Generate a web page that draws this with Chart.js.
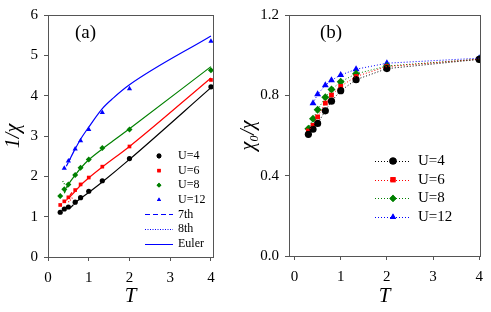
<!DOCTYPE html>
<html>
<head>
<meta charset="utf-8">
<script src="https://cdn.jsdelivr.net/npm/chart.js"></script>
<style>
    body { margin: 0; background: #fff; }
    #wrap { position: relative; width: 491px; height: 312px; overflow: hidden; }
    canvas { position: absolute; top: 0; }
    #chartA { left: 0; }
    #chartB { left: 235px; }
</style>
</head>
<body>
<div id="wrap">
    <canvas id="chartA" width="245" height="312"></canvas>
    <canvas id="chartB" width="256" height="312"></canvas>
</div>
<script>
(function () {

    // panel (a): 1/chi vs T
    var temps = [0.3, 0.4, 0.5, 0.667, 0.8, 1, 1.333, 2, 4];
    var tempsU12 = [0.4, 0.5, 0.667, 0.8, 1, 1.333, 2, 4];
    var invChiU4 = [1.11, 1.19, 1.24, 1.36, 1.47, 1.63, 1.89, 2.44, 4.22];
    var invChiU6 = [1.29, 1.38, 1.48, 1.66, 1.80, 1.97, 2.24, 2.74, 4.39];
    var invChiU8 = [1.51, 1.68, 1.80, 2.03, 2.21, 2.42, 2.70, 3.16, 4.63];
    var invChiU12 = [2.20, 2.38, 2.68, 2.88, 3.16, 3.58, 4.17, 5.35];

    // Euler-resummed curves
    var eulerT4 = [0.62, 0.8, 1, 1.333, 2, 4];
    var eulerU4 = [1.31, 1.45, 1.60, 1.86, 2.42, 4.20];
    var eulerT6 = [0.5, 0.667, 0.8, 1, 1.333, 2, 4];
    var eulerU6 = [1.45, 1.63, 1.78, 1.96, 2.23, 2.74, 4.44];
    var eulerT8 = [0.45, 0.5, 0.667, 0.8, 1, 1.333, 1.6, 2, 4];
    var eulerU8 = [1.72, 1.80, 2.03, 2.20, 2.41, 2.68, 2.88, 3.18, 4.72];
    var eulerT12 = [0.5, 0.667, 0.8, 1, 1.333, 1.6, 2, 4];
    var eulerU12 = [2.35, 2.68, 2.92, 3.22, 3.68, 3.94, 4.27, 5.48];

    // 7th / 8th order pieces at low T
    var order7T4 = [0.55, 0.72], order7U4 = [1.22, 1.40];
    var order8T4 = [0.6, 0.7], order8U4 = [1.26, 1.37];
    var order7T6 = [0.45, 0.6], order7U6 = [1.40, 1.62];
    var order8T6 = [0.5, 0.6], order8U6 = [1.36, 1.47];
    var order7T8 = [0.4, 0.52], order7U8 = [1.58, 1.85];
    var order8T8 = [0.36, 0.42], order8U8 = [1.88, 1.78];
    var order7T12 = [0.45, 0.55], order7U12 = [2.25, 2.45];

    var ticksXA = [0, 1, 2, 3, 4];
    var ticksYA = [0, 1, 2, 3, 4, 5, 6];

    // panel (b): chi0/chi vs T
    var ratioU4 = [0.606, 0.631, 0.660, 0.723, 0.771, 0.823, 0.878, 0.933, 0.979];
    var ratioU6 = [0.623, 0.650, 0.693, 0.761, 0.801, 0.845, 0.894, 0.943, 0.980];
    var ratioU8 = [0.634, 0.683, 0.728, 0.790, 0.829, 0.868, 0.907, 0.946, 0.980];
    var ratioU12 = [0.761, 0.805, 0.850, 0.875, 0.901, 0.930, 0.960, 0.985];

    var ticksXB = [0, 1, 2, 3, 4];
    var ticksYB = [0, 0.4, 0.8, 1.2];

    var labels = ['U=4', 'U=6', 'U=8', 'U=12'];
    var colors = ['#000000', '#ff0000', '#008000', '#0000ff'];
    var markers = ['circle', 'rect', 'rectRot', 'triangle'];

    var FONT = '"Liberation Serif", "Times New Roman", serif';

    function pts(xs, ys) {
        return xs.map(function (x, i) { return {x: x, y: ys[i]}; });
    }

    function points(xs, ys, i, r) {
        return {
            data: pts(xs, ys),
            showLine: false,
            pointStyle: markers[i],
            pointRadius: r,
            backgroundColor: colors[i],
            borderColor: colors[i],
            borderWidth: 0
        };
    }

    function curve(xs, ys, i, dash, width) {
        return {
            data: pts(xs, ys),
            showLine: true,
            pointRadius: 0,
            borderColor: colors[i],
            borderWidth: width || 1.2,
            borderDash: dash || [],
            cubicInterpolationMode: 'monotone',
            fill: false
        };
    }

    function marker(ctx, style, color, x, y, r) {
        ctx.fillStyle = color;
        ctx.strokeStyle = color;
        if (Chart.helpers && Chart.helpers.drawPoint) {
            Chart.helpers.drawPoint(ctx, {pointStyle: style, radius: r, rotation: 0, borderWidth: 0}, x, y);
            ctx.fill();
        }
    }

    var framePlugin = {
        id: 'frame',
        afterDraw: function (chart, args, opts) {
            var ctx = chart.ctx;
            var a = chart.chartArea;
            ctx.save();
            ctx.strokeStyle = '#555';
            ctx.lineWidth = 1;
            ctx.setLineDash([]);
            ctx.strokeRect(Math.round(a.left) + 0.5, Math.round(a.top) + 0.5,
                Math.round(a.right - a.left), Math.round(a.bottom - a.top));

            ctx.fillStyle = '#000';
            ctx.font = '19px ' + FONT;
            ctx.textBaseline = 'middle';
            ctx.fillText(opts.tag, opts.tagX, opts.tagY);

            var lg = opts.legend;
            ctx.font = lg.size + 'px ' + FONT;
            lg.items.forEach(function (it, k) {
                var y = lg.y0 + k * lg.dy;
                if (it.line) {
                    ctx.beginPath();
                    ctx.strokeStyle = it.color;
                    ctx.lineWidth = 1;
                    ctx.setLineDash(it.dash || []);
                    ctx.moveTo(lg.lineX0, Math.round(y) + 0.5);
                    ctx.lineTo(lg.lineX1, Math.round(y) + 0.5);
                    ctx.stroke();
                    ctx.setLineDash([]);
                }
                if (it.marker) {
                    marker(ctx, it.marker, it.color, lg.markX, y, lg.markR);
                }
                ctx.fillStyle = '#000';
                ctx.fillText(it.label, lg.textX, y);
            });
            ctx.restore();
        }
    };

    function axes(opt) {
        var tickFont = {family: FONT, size: 15};
        return {
            x: {
                type: 'linear',
                min: opt.xMin,
                max: opt.xMax,
                afterBuildTicks: function (s) { s.ticks = opt.xTicks.map(function (v) { return {value: v}; }); },
                afterFit: function (s) { s.height = opt.xH; },
                ticks: {color: '#000', font: tickFont, padding: 8, maxRotation: 0},
                grid: {drawOnChartArea: false, drawTicks: true, tickLength: 4, color: '#555'},
                border: {color: '#555'},
                title: {display: true, text: 'T', color: '#000', padding: {top: 0, bottom: 3},
                    font: {family: FONT, size: 21, style: 'italic'}}
            },
            y: {
                type: 'linear',
                min: opt.yMin,
                max: opt.yMax,
                afterBuildTicks: function (s) { s.ticks = opt.yTicks.map(function (v) { return {value: v}; }); },
                afterFit: function (s) { s.width = opt.yW; },
                ticks: {color: '#000', font: tickFont, padding: 6, callback: opt.yFmt},
                grid: {drawOnChartArea: false, drawTicks: true, tickLength: 4, color: '#555'},
                border: {color: '#555'},
                title: {display: true, text: opt.yTitle, color: '#000', padding: {top: 2, bottom: 0},
                    font: {family: FONT, size: 20, style: 'italic'}}
            }
        };
    }

    new Chart(document.getElementById('chartA'), {
        type: 'scatter',
        data: {
            datasets: [
                curve(eulerT4, eulerU4, 0),
                curve(eulerT6, eulerU6, 1),
                curve(eulerT8, eulerU8, 2),
                curve(eulerT12, eulerU12, 3),
                curve(order7T4, order7U4, 0, [4, 2]),
                curve(order8T4, order8U4, 0, [1, 1.5]),
                curve(order7T6, order7U6, 1, [4, 2]),
                curve(order8T6, order8U6, 1, [1, 1.5]),
                curve(order7T8, order7U8, 2, [4, 2]),
                curve(order8T8, order8U8, 2, [1, 1.5]),
                curve(order7T12, order7U12, 3, [4, 2]),
                points(temps, invChiU4, 0, 2.6),
                points(temps, invChiU6, 1, 2.6),
                points(temps, invChiU8, 2, 3),
                points(tempsU12, invChiU12, 3, 3)
            ]
        },
        options: {
            responsive: false,
            animation: false,
            devicePixelRatio: 1,
            layout: {padding: {top: 12, right: 32, left: 0, bottom: 0}},
            plugins: {
                legend: {display: false},
                tooltip: {enabled: false},
                frame: {
                    tag: '(a)', tagX: 75, tagY: 33,
                    legend: {
                        size: 12, y0: 156, dy: 14.6, markX: 159, markR: 2.4, textX: 178,
                        lineX0: 145, lineX1: 173,
                        items: [
                            {label: labels[0], marker: markers[0], color: colors[0]},
                            {label: labels[1], marker: markers[1], color: colors[1]},
                            {label: labels[2], marker: markers[2], color: colors[2]},
                            {label: labels[3], marker: markers[3], color: colors[3]},
                            {label: '7th', line: true, color: colors[3], dash: [5, 3]},
                            {label: '8th', line: true, color: colors[3], dash: [1, 1.5]},
                            {label: 'Euler', line: true, color: colors[3]}
                        ]
                    }
                }
            },
            scales: axes({
                xMin: 0, xMax: 4.05, xTicks: ticksXA, xH: 55,
                yMin: 0, yMax: 6, yTicks: ticksYA, yW: 48,
                yTitle: '1/\u03c7',
                yFmt: function (v) { return String(v); }
            })
        },
        plugins: [framePlugin]
    });

    new Chart(document.getElementById('chartB'), {
        type: 'scatter',
        data: {
            datasets: [
                curve(temps, ratioU4, 0, [1, 2], 1),
                curve(temps, ratioU6, 1, [1, 2], 1),
                curve(temps, ratioU8, 2, [1, 2], 1),
                curve(tempsU12, ratioU12, 3, [1, 2], 1),
                points(temps, ratioU4, 0, 3.6),
                points(temps, ratioU6, 1, 3.4),
                points(temps, ratioU8, 2, 4),
                points(tempsU12, ratioU12, 3, 4)
            ].map(function (d) { d.cubicInterpolationMode = 'default'; d.tension = 0; return d; })
        },
        options: {
            responsive: false,
            animation: false,
            devicePixelRatio: 1,
            layout: {padding: {top: 10, right: 10, left: 0, bottom: 0}},
            plugins: {
                legend: {display: false},
                tooltip: {enabled: false},
                frame: {
                    tag: '(b)', tagX: 85, tagY: 33,
                    legend: {
                        size: 15, y0: 161, dy: 18.7, markX: 158, markR: 3.6, textX: 183,
                        lineX0: 140, lineX1: 176,
                        items: [
                            {label: labels[0], marker: markers[0], color: colors[0], line: true, dash: [1, 2]},
                            {label: labels[1], marker: markers[1], color: colors[1], line: true, dash: [1, 2]},
                            {label: labels[2], marker: markers[2], color: colors[2], line: true, dash: [1, 2]},
                            {label: labels[3], marker: markers[3], color: colors[3], line: true, dash: [1, 2]}
                        ]
                    }
                }
            },
            scales: axes({
                xMin: -0.12, xMax: 4.02, xTicks: ticksXB, xH: 56,
                yMin: 0, yMax: 1.2, yTicks: ticksYB, yW: 54,
                yTitle: '\u03c7\u2080/\u03c7',
                yFmt: function (v) { return v.toFixed(1); }
            })
        },
        plugins: [framePlugin]
    });

})();
</script>
</body>
</html>
